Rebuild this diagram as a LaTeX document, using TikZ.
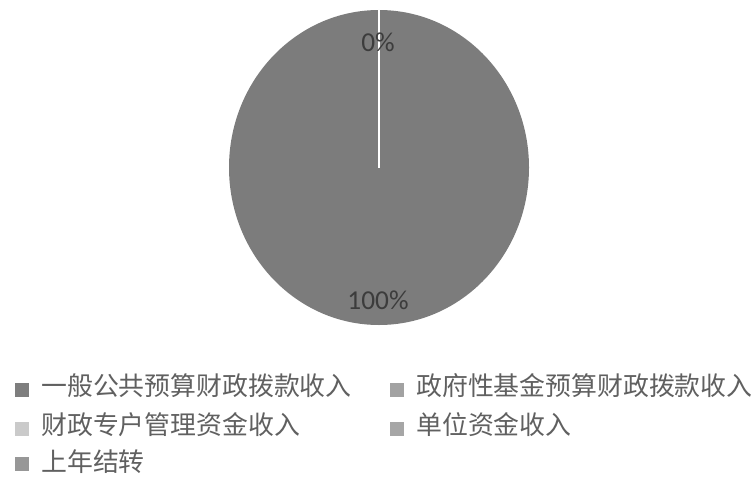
\documentclass[tikz,border=0pt]{standalone}
\usepackage{fontspec}
\setmainfont{Carlito}
\newfontfamily\cjk{Noto Sans CJK SC}
\usepackage{tikz}
\definecolor{piegray}{HTML}{7C7C7C}
\definecolor{labgray}{HTML}{3C3C3C}
\definecolor{leggray}{HTML}{606060}
\definecolor{keyA}{HTML}{7E7E7E}
\definecolor{keyB}{HTML}{A2A2A2}
\definecolor{keyC}{HTML}{CACACA}
\definecolor{keyD}{HTML}{A6A6A6}
\definecolor{keyE}{HTML}{979797}
\tikzset{
  pct/.style={text=labgray, font=\fontsize{20.5}{20.5}\selectfont, inner sep=0pt},
  legtext/.style={text=leggray, font=\cjk\fontsize{19.4}{19.4}\selectfont, anchor=west, inner sep=0pt},
  legkey/.style={minimum size=10pt, inner sep=0pt}
}
\begin{document}
\begin{tikzpicture}[x=0.75pt,y=0.75pt]
                \useasboundingbox (0,0) rectangle (755,-478);
                \fill [piegray] (379,-167.5) ellipse [x radius=150, y radius=157.5];
                \draw [white, line width=1.7pt] (379,-167.5) -- (379,-10);
                \node [pct] (zero) at (378,-42) {0\%};
                \node [pct] (full) at (378,-300) {100\%};
                % legend
                \node [legkey, fill=keyA] (kA) at (22,-390) {};
                \node [legtext] (tA) at (41,-386) {一般公共预算财政拨款收入};
                \node [legkey, fill=keyB] (kB) at (397,-390) {};
                \node [legtext] (tB) at (416,-386) {政府性基金预算财政拨款收入};
                \node [legkey, fill=keyC] (kC) at (22,-429) {};
                \node [legtext] (tC) at (41,-425) {财政专户管理资金收入};
                \node [legkey, fill=keyD] (kD) at (397,-429) {};
                \node [legtext] (tD) at (416,-425) {单位资金收入};
                \node [legkey, fill=keyE] (kE) at (22,-464) {};
                \node [legtext] (tE) at (41,-462) {上年结转};
            \end{tikzpicture}
\end{document}
